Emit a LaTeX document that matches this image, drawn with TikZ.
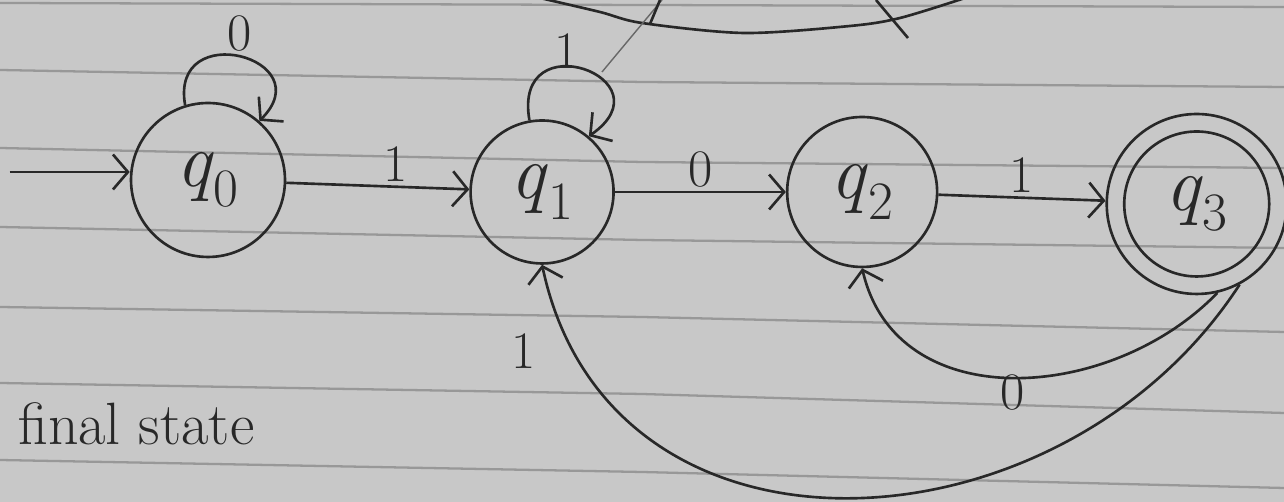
\documentclass[tikz,border=0pt]{standalone}
\usepackage{tikz}
\usetikzlibrary{arrows.meta, positioning, calc}
\definecolor{paper}{RGB}{200,200,200}
\definecolor{rulegray}{RGB}{152,152,152}
\definecolor{ink}{RGB}{40,40,40}
\newcommand{\qst}[1]{\textit{q}\textsubscript{#1}}

\begin{document}
\begin{tikzpicture}[
        x=0.02cm, y=0.02cm,
        state/.style={draw=ink, circle, line width=1.5pt, inner sep=0pt, text=ink, font=\fontsize{44}{48}\selectfont},
        trans/.style={draw=ink, line width=1.5pt, -{Straight Barb[length=0.3cm, width=0.7cm]}},
        lbl/.style={text=ink, inner sep=2pt, font=\fontsize{30}{34}\selectfont},
        ruling/.style={draw=rulegray, line width=1.3pt},
        stroke/.style={draw=ink, line width=1.5pt}
    ]
        \useasboundingbox (0,0) rectangle (1284,502);
        \fill[paper] (0,0) rectangle (1284,502);

        % ruled paper
        \foreach \a/\b/\c in {499/497/495, 432/420/415, 354/340/334, 275/262/254,
                              195/185/170, 119/108/89, 42/30/14}
            \draw[ruling] (0,\a) -- (642,\b) -- (1284,\c);

        % strokes of another drawing, cut off at the top
        \draw[stroke] plot[smooth] coordinates {(540,504) (600,490) (642,479) (744,469) (850,476) (900,484) (965,504)};
        \draw[draw=ink!70, line width=0.8pt] (602,430) -- (662,502);
        \draw[stroke] (660,502) -- (650,478);
        \draw[stroke] (876,502) -- (908,464);

        \node[state, minimum size=3.08cm] (q0) at (208,322) {\qst{0}};
        \node[state, minimum size=2.86cm, right=3.66cm of q0, yshift=-0.24cm] (q1) {\qst{1}};
        \node[state, minimum size=3cm, right=3.42cm of q1] (q2) {\qst{2}};
        \node[state, minimum size=3.6cm, right=3.34cm of q2, yshift=-0.24cm] (q3) {\qst{3}};
        \draw[stroke] (q3.center) circle[radius=1.45cm];

        \coordinate[left=2.4cm of q0, yshift=0.16cm] (start);
        \draw[trans] (start) -- (start -| q0.west);

        \draw[trans] (q0) -- node[lbl, above, pos=.6] {1} (q1);
        \draw[trans] (q1) -- node[lbl, above] {0} (q2);
        \draw[trans] (q2) -- node[lbl, above] {1} (q3);

        \draw[trans] (q0.107) to[out=100, in=45, looseness=3] node[lbl, above] {0} (q0.49);
        \draw[trans] (q1.100) to[out=100, in=35, looseness=4.2] node[lbl, above=-4pt, pos=.4] {1} (q1.50);

        \draw[trans] (q3.-77) to[out=-134, in=-77, looseness=1.1] node[lbl, pos=.5, yshift=-0.3cm] {0} (q2.south);
        \draw[trans] (q3.-62) to[out=-123, in=-78, looseness=1.2] node[lbl, pos=.9, xshift=-1cm] {1} (q1.south);

        \node[text=ink, anchor=base west, font=\fontsize{34}{38}\selectfont] (note) at (12,57) {final state};
    \end{tikzpicture}
\end{document}
